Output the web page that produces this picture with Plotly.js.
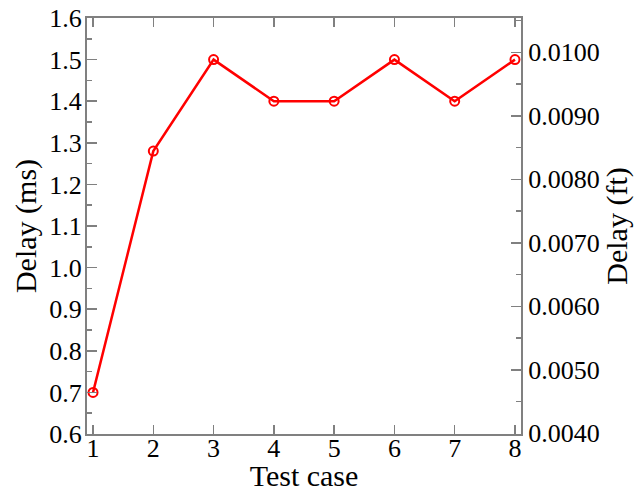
<!DOCTYPE html>
<html>
<head>
<meta charset="utf-8">
<script src="https://cdn.plot.ly/plotly-3.0.1.min.js"></script>
<style>html,body{margin:0;padding:0;background:#fff;}#chart{width:641px;height:492px;}</style>
</head>
<body>
<div id="chart"></div>
<script>
const testCases = [1, 2, 3, 4, 5, 6, 7, 8];
const delayMs = [0.7, 1.28, 1.5, 1.4, 1.4, 1.5, 1.4, 1.5];
const xTitle = "Test case";
const yTitle = "Delay (ms)";
const y2Title = "Delay (ft)";
const yRange = [0.6, 1.6];
const y2Range = [0.00399, 0.01054];

const fontFam = 'Liberation Serif';
const axisCol = '#808080';

function makeTraces() {
  return [{
    x: testCases, y: delayMs, type: 'scatter', mode: 'lines+markers',
    line: {color: '#ff0000', width: 2.5},
    marker: {symbol: 'circle-open', size: 9, color: '#ff0000', line: {width: 2, color: '#ff0000'}},
    showlegend: false, hoverinfo: 'skip'
  },
  {x: [], y: [], yaxis: 'y2', type: 'scatter', mode: 'lines', showlegend: false, hoverinfo: 'skip'},
  {x: [], y: [], yaxis: 'y3', type: 'scatter', mode: 'lines', showlegend: false, hoverinfo: 'skip'},
  {x: [], y: [], yaxis: 'y4', type: 'scatter', mode: 'lines', showlegend: false, hoverinfo: 'skip'}];
}

function tf() { return {family: fontFam, size: 26, color: '#000'}; }
function ttf() { return {family: fontFam, size: 30, color: '#000'}; }

function makeLayout() {
  return {
    width: 641, height: 492,
    margin: {l: 87, r: 120, t: 18, b: 58},
    font: {family: fontFam, color: '#000', size: 26},
    showlegend: false,
    xaxis: {
      range: [0.9, 8.1], dtick: 1, tick0: 1,
      showgrid: false, zeroline: false,
      showline: true, linecolor: axisCol, linewidth: 2,
      mirror: 'ticks', ticks: 'inside', ticklen: 9, tickwidth: 1.5, tickcolor: axisCol,
      tickfont: tf(), ticklabelstandoff: -10,
      title: {text: xTitle, font: ttf(), standoff: 2}
    },
    yaxis: {
      range: yRange, dtick: 0.1, tick0: 0.6, tickformat: '.1f',
      showgrid: false, zeroline: false,
      showline: true, linecolor: axisCol, linewidth: 2,
      ticks: 'inside', ticklen: 10, tickwidth: 1.5, tickcolor: axisCol,
      tickfont: tf(), ticklabelstandoff: -2,
      title: {text: yTitle, font: ttf(), standoff: 4}
    },
    yaxis2: {
      overlaying: 'y', side: 'right', anchor: 'x',
      range: y2Range, dtick: 0.001, tick0: 0.004, tickformat: '.4f',
      showgrid: false, zeroline: false,
      showline: true, linecolor: axisCol, linewidth: 2,
      ticks: 'inside', ticklen: 10, tickwidth: 1.5, tickcolor: axisCol,
      tickfont: tf(), ticklabelstandoff: 0,
      title: {text: y2Title, font: ttf(), standoff: 4}
    },
    yaxis3: {
      overlaying: 'y', side: 'left', anchor: 'x',
      range: yRange, dtick: 0.05, tick0: 0.6,
      showgrid: false, zeroline: false, showline: false, showticklabels: false,
      ticks: 'inside', ticklen: 5, tickwidth: 1.5, tickcolor: axisCol
    },
    yaxis4: {
      overlaying: 'y', side: 'right', anchor: 'x',
      range: y2Range, dtick: 0.0005, tick0: 0.004,
      showgrid: false, zeroline: false, showline: false, showticklabels: false,
      ticks: 'inside', ticklen: 5, tickwidth: 1.5, tickcolor: axisCol
    }
  };
}

const cfg = {displayModeBar: false, staticPlot: true};

function touch() {
  document.querySelectorAll('#chart text').forEach(function (t) {
    getComputedStyle(t).fontFamily;
    try { t.getBBox(); } catch (e) {}
  });
}

Plotly.newPlot('chart', makeTraces(), makeLayout(), cfg).then(touch);

if (document.fonts) {
  Promise.all([
    document.fonts.load('26px "Liberation Serif"'),
    document.fonts.load('30px "Liberation Serif"')
  ]).then(function () {
    return Plotly.react('chart', makeTraces(), makeLayout(), cfg);
  }).then(touch).catch(function () {});
}
</script>
</body>
</html>
